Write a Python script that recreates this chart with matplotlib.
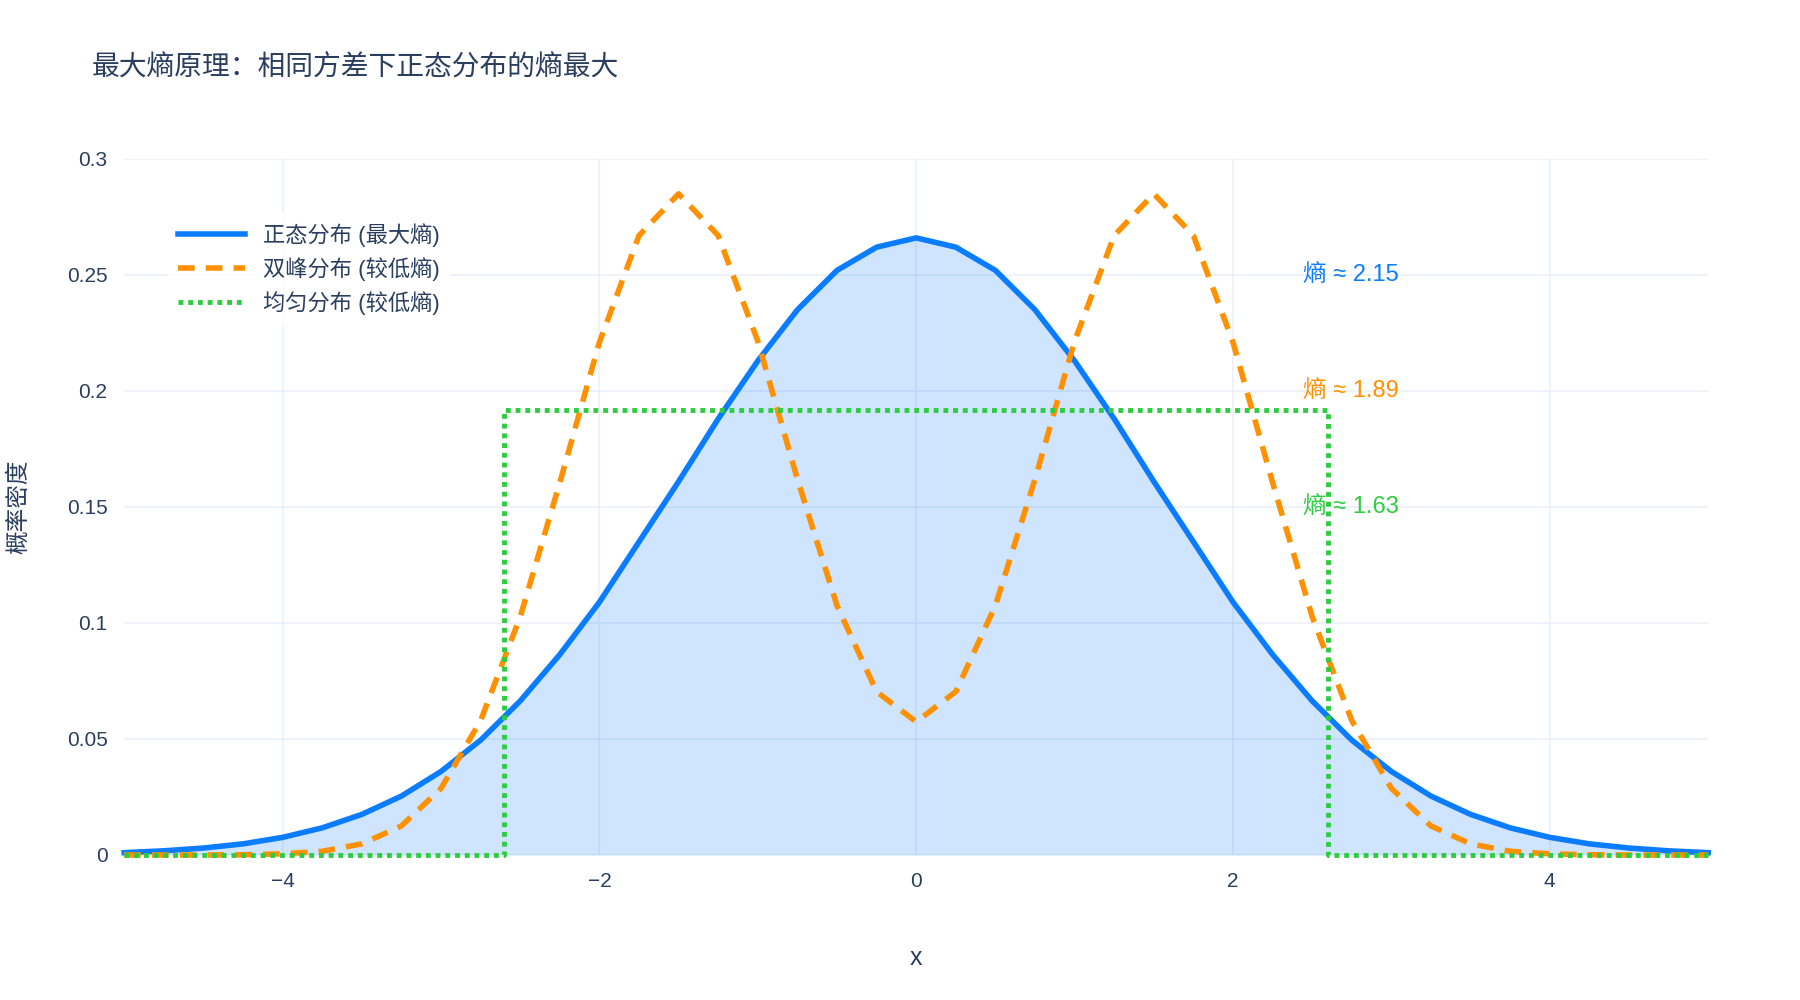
import matplotlib
matplotlib.use("Agg")
import matplotlib.pyplot as plt
import numpy as np

plt.rcParams['font.family'] = ['Liberation Sans', 'Noto Sans CJK SC', 'DejaVu Sans']

x = [i * 0.25 - 5 for i in range(41)]
normal_half = [0.266, 0.262, 0.252, 0.235, 0.213, 0.188, 0.161, 0.135, 0.109, 0.0864,
               0.0664, 0.0495, 0.036, 0.0254, 0.0175, 0.0117, 0.0076, 0.0048, 0.003, 0.0018, 0.001]
bimodal_half = [0.0574, 0.0704, 0.1075, 0.162, 0.2215, 0.267, 0.285, 0.267, 0.221, 0.1605,
                0.1027, 0.0579, 0.0287, 0.0125, 0.0048, 0.0016, 0.0005, 0.0001, 0.0, 0.0, 0.0]
normal = normal_half[:0:-1] + normal_half
bimodal = bimodal_half[:0:-1] + bimodal_half
uni_x = [-5, -2.6, -2.6, 2.6, 2.6, 5]
uni_y = [0, 0, 0.192, 0.192, 0, 0]

labels = ['正态分布 (最大熵)', '双峰分布 (较低熵)', '均匀分布 (较低熵)']
entropy_text = ['熵 ≈ 2.15', '熵 ≈ 1.89', '熵 ≈ 1.63']
entropy_y = [0.25, 0.2, 0.15]
colors = ['#0a7cff', '#ff9000', '#2ecc40']
txt = '#2a3f5f'

fig = plt.figure(figsize=(18, 10), dpi=100)
ax = fig.add_axes([0.069, 0.145, 0.88, 0.696])

ax.fill_between(x, normal, 0, color='#0a7cff', alpha=0.2, linewidth=0)
ax.plot(x, normal, color=colors[0], lw=4, label=labels[0], clip_on=False)
ax.plot(x, bimodal, color=colors[1], lw=4, ls=(0, (3, 2)), label=labels[1], clip_on=False)
ax.plot(uni_x, uni_y, color=colors[2], lw=3.5, ls=(0, (1, 1)), label=labels[2], clip_on=False)

for t, yy, c in zip(entropy_text, entropy_y, colors):
    ax.text(2.44, yy, t, color=c, fontsize=17, ha='left', va='center')

ax.set_xlim(-5, 5)
ax.set_ylim(0, 0.3)
ax.set_xticks([-4, -2, 0, 2, 4])
ax.set_xticklabels(['−4', '−2', '0', '2', '4'])
ax.set_yticks([0, 0.05, 0.1, 0.15, 0.2, 0.25, 0.3])
ax.set_yticklabels(['0', '0.05', '0.1', '0.15', '0.2', '0.25', '0.3'])
ax.grid(color='#ebf0f8', lw=1.2)
ax.set_axisbelow(True)
for s in ax.spines.values():
    s.set_visible(False)
ax.tick_params(length=0, labelsize=15, labelcolor=txt, pad=12)
ax.set_xlabel('x', fontsize=18, color=txt, labelpad=40)
ax.set_ylabel('概率密度', fontsize=17, color=txt, labelpad=26)

leg = ax.legend(loc='upper left', bbox_to_anchor=(0.02, 0.94), fontsize=16,
                frameon=True, handlelength=3, borderpad=0.5, labelspacing=0.45)
leg.get_frame().set_facecolor('white')
leg.get_frame().set_alpha(0.8)
leg.get_frame().set_linewidth(0)
for t in leg.get_texts():
    t.set_color(txt)

fig.text(0.051, 0.932, '最大熵原理：相同方差下正态分布的熵最大', fontsize=20, color=txt, va='center')

fig.savefig('out.png')
